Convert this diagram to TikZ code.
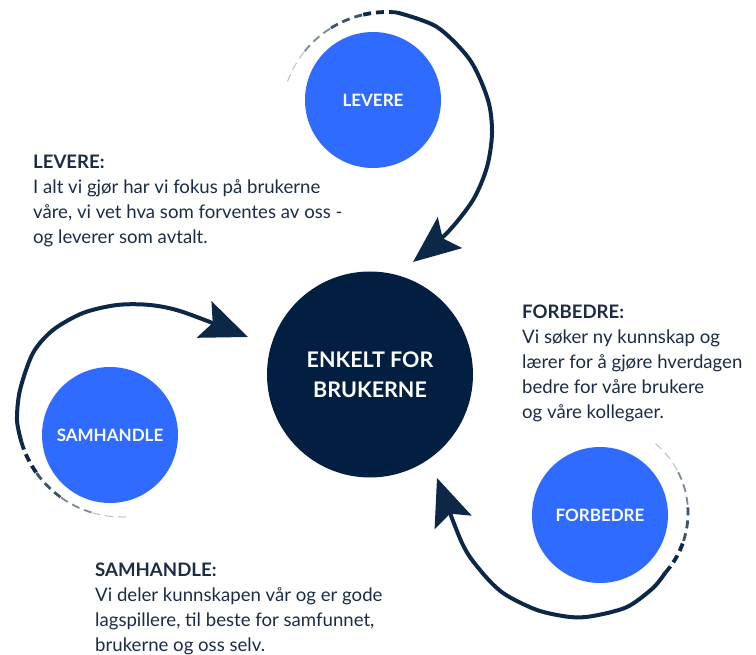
\documentclass[tikz,border=0pt]{standalone}
\usepackage{fontspec}
\setmainfont{Lato}
\usetikzlibrary{arrows.meta}
\definecolor{blueA}{RGB}{47,107,255}
\definecolor{navy}{RGB}{2,30,64}
\definecolor{arcc}{RGB}{12,40,70}
\definecolor{txt}{RGB}{27,44,68}
\begin{document}
\begin{tikzpicture}[x=1pt,y=-1pt,
  sat/.style={circle,fill=blueA,minimum size=136pt,inner sep=0pt,text=white,
    font=\fontsize{17}{20}\selectfont\bfseries},
  hub/.style={circle,fill=navy,minimum size=206pt,inner sep=0pt,text=white,align=center,
    font=\fontsize{21.5}{30}\selectfont\bfseries},
  desc/.style={anchor=north west,inner sep=0pt,align=left,text=txt,
    font=\fontsize{18.6}{25}\selectfont},
  loopline/.style={draw=arcc,line width=4pt},
  tipped/.style={-{Stealth[length=47pt,width=39pt,inset=9pt]}},
  fadedash/.style={draw=arcc,dash pattern=on 8pt off 5pt}
]
\useasboundingbox (0,0) rectangle (756,655);

% circles
\node[hub] (hub) at (370,374.5) {ENKELT FOR\\BRUKERNE};
\node[sat] (lev) at (373,100) {LEVERE};
\node[sat] (sam) at (110,435) {SAMHANDLE};
\node[sat] (forb) at (600,515) {FORBEDRE};

% loop centres and arrow tips
\coordinate (lc) at (387,118);
\coordinate (sc) at (122,412);
\coordinate (fc) at (598,513);
\coordinate (levtip) at (413,262);
\coordinate (samtip) at (248,337);
\coordinate (forbtip) at (437,478);

% LEVERE loop
\foreach \a/\b/\w/\o in {-84.6/-103.6/3.8/1,-103.6/-122.6/2.8/0.8,-122.6/-141.5/1.8/0.55,-141.5/-160.5/1/0.3}
  \draw[fadedash,line width=\w pt,draw opacity=\o] (lc) ++(\a:106) arc[start angle=\a,end angle=\b,radius=106];
\draw[loopline,tipped] plot[smooth] coordinates {(397,12.5) (437,27) (470,60) (488,100) (492,133) (487,167) (473,200) (447,233) (levtip)};

% SAMHANDLE loop
\foreach \a/\b/\w/\o in {163.4/144.4/3.8/1,144.4/125.4/2.8/0.8,125.4/106.3/1.8/0.55,106.3/87.3/1/0.3}
  \draw[fadedash,line width=\w pt,draw opacity=\o] (sc) ++(\a:105) arc[start angle=\a,end angle=\b,radius=105];
\draw[loopline,tipped] plot[smooth] coordinates {(21.4,442) (17,420) (20,390) (33,353) (53,330) (83,313) (117,305) (150,305) (183,312) (samtip)};

% FORBEDRE loop
\foreach \a/\b/\w/\o in {41.5/18.1/3.8/1,18.1/-5.3/2.8/0.8,-5.3/-28.6/1.8/0.55,-28.6/-52/1/0.3}
  \draw[fadedash,line width=\w pt,draw opacity=\o] (fc) ++(\a:90) arc[start angle=\a,end angle=\b,radius=90];
\draw[loopline,tipped] plot[smooth] coordinates {(665.4,572.6) (653,588) (627,607) (593,616) (570,617) (537,610) (503,593) (480,570) (462,543) (forbtip)};

% descriptions
\node[desc] (tlev) at (33,155) {\textbf{LEVERE:}\\I alt vi gjør har vi fokus på brukerne\\våre, vi vet hva som forventes av oss -\\og leverer som avtalt.};
\node[desc] (tforb) at (522,305) {\textbf{FORBEDRE:}\\Vi søker ny kunnskap og\\lærer for å gjøre hverdagen\\bedre for våre brukere\\og våre kollegaer.};
\node[desc] (tsam) at (95,563) {\textbf{SAMHANDLE:}\\Vi deler kunnskapen vår og er gode\\lagspillere, til beste for samfunnet,\\brukerne og oss selv.};
\end{tikzpicture}
\end{document}
